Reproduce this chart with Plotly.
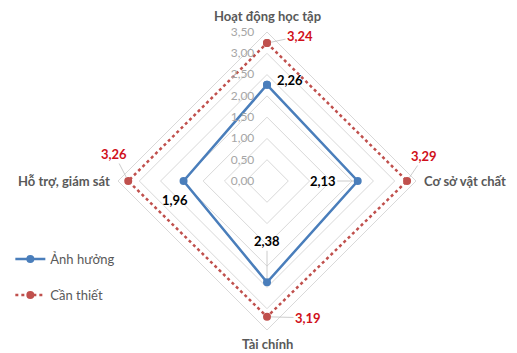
import math
import plotly.graph_objects as go

categories = ["Hoạt động học tập", "Cơ sở vật chất", "Tài chính", "Hỗ trợ, giám sát"]
anh_huong = [2.26, 2.13, 2.38, 1.96]
can_thiet = [3.24, 3.29, 3.19, 3.26]
tick_vals = [0, 0.5, 1.0, 1.5, 2.0, 2.5, 3.0, 3.5]
r_max = 3.5

W, H = 517, 353
CX, CY, R = 267, 181, 149  # polar center/radius in pixels

FONT = "Lato, 'Noto Sans', sans-serif"
BLUE = "#4A7EBB"
RED = "#C0504D"
RED_TXT = "#D0101A"
GRID = "#D9D9D9"

angles = [0, 90, 180, 270]  # clockwise from top, matching category order


def to_paper(r, ang):
    px = CX + r / r_max * R * math.sin(math.radians(ang))
    py = CY - r / r_max * R * math.cos(math.radians(ang))
    return px / W, (H - py) / H


fig = go.Figure()
fig.add_trace(go.Scatterpolar(
    r=anh_huong + anh_huong[:1], theta=categories + categories[:1],
    mode="lines+markers", name="Ảnh hưởng", legendgroup="a",
    line=dict(color=BLUE, width=2.5), marker=dict(color=BLUE, size=8),
))
fig.add_trace(go.Scatterpolar(
    r=can_thiet + can_thiet[:1], theta=categories + categories[:1],
    mode="lines+markers", name="Cần thiết", legendgroup="b",
    line=dict(color=RED, width=2.5, dash="dot"), marker=dict(color=RED, size=8),
))

fig.update_layout(
    width=W, height=H, margin=dict(l=0, r=0, t=0, b=0),
    paper_bgcolor="white", plot_bgcolor="white",
    separators=",.",
    font=dict(family=FONT, size=13, color="#595959"),
    polar=dict(
        domain=dict(x=[(CX - R) / W, (CX + R) / W], y=[(H - CY - R) / H, (H - CY + R) / H]),
        gridshape="linear",
        bgcolor="white",
        angularaxis=dict(direction="clockwise", rotation=90, showgrid=False,
                         showline=True, linecolor=GRID, linewidth=1,
                         showticklabels=False, ticks=""),
        radialaxis=dict(range=[0, r_max], tickvals=tick_vals, tickformat=".2f",
                        showline=False, gridcolor=GRID, gridwidth=1,
                        ticks="outside", ticklen=8, tickcolor="rgba(0,0,0,0)",
                        angle=90, tickangle=90, side="counterclockwise",
                        tickfont=dict(size=12, color="#A6A6A6", family=FONT)),
    ),
    legend=dict(x=0.02, y=0.3085, xanchor="left", yanchor="top",
                font=dict(size=13, color="#595959", family=FONT),
                tracegroupgap=16, bgcolor="rgba(0,0,0,0)"),
    showlegend=True,
)

# category labels
cat_off = [(0, 16, "center", "middle"), (6, 0, "left", "middle"),
           (0, -14, "center", "middle"), (-6, 0, "right", "middle")]
for cat, ang, (dx, dy, xa, ya) in zip(categories, angles, cat_off):
    x, y = to_paper(r_max, ang)
    fig.add_annotation(x=x, y=y, xref="paper", yref="paper", text=f"<b>{cat}</b>",
                       showarrow=False, xanchor=xa, yanchor=ya, xshift=dx, yshift=dy,
                       font=dict(size=13, color="#595959", family=FONT))

# data labels: (ax, ay, arrow)
blue_off = [(23, -5, False), (-35, 0, True), (0, -41, True), (-9, 19, False)]
red_off = [(33, -7, True), (17, -25, True), (41, 1, True), (-14, -27, True)]

for vals, offs, col in ((anh_huong, blue_off, "#000000"), (can_thiet, red_off, RED_TXT)):
    for v, ang, (ax, ay, arr) in zip(vals, angles, offs):
        x, y = to_paper(v, ang)
        txt = "<b>" + f"{v:.2f}".replace(".", ",") + "</b>"
        if arr:
            fig.add_annotation(x=x, y=y, xref="paper", yref="paper", text=txt,
                               showarrow=True, arrowhead=0, arrowwidth=0.8,
                               arrowcolor="#BFBFBF", ax=ax, ay=ay, standoff=4,
                               xanchor="center", yanchor="middle",
                               font=dict(size=13, color=col, family=FONT))
        else:
            fig.add_annotation(x=x, y=y, xref="paper", yref="paper", text=txt,
                               showarrow=False, xshift=ax, yshift=-ay,
                               xanchor="center", yanchor="middle",
                               font=dict(size=13, color=col, family=FONT))

fig.write_html("out.html")
